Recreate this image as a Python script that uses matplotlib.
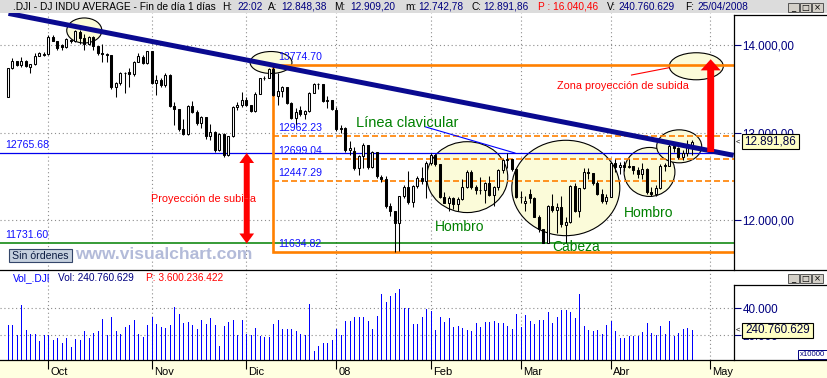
import matplotlib
matplotlib.use("Agg")
import matplotlib.pyplot as plt
import numpy as np
from matplotlib import transforms
from matplotlib.patches import Ellipse, Rectangle, FancyArrowPatch

plt.rcParams['font.family'] = ['Liberation Sans', 'DejaVu Sans']

# daily OHLC, 18/09/2007 .. 25/04/2008 (trading-day index on x)
opens = [13403, 13740, 13812, 13768, 13822, 13745, 13778, 13879, 13890, 13896,
         14090, 14045, 14005, 13975, 14060, 14044, 14150, 14079, 14015, 14093,
         13985, 13913, 13892, 13888, 13522, 13567, 13677, 13690, 13672, 13807,
         13867, 13792, 13930, 13567, 13595, 13543, 13660, 13300, 13265, 13043,
         12987, 13307, 13231, 13110, 13177, 12958, 13010, 12799, 12981, 12743,
         12959, 13289, 13311, 13372, 13315, 13249, 13445, 13620, 13625, 13727,
         13420, 13474, 13518, 13340, 13168, 13260, 13207, 13246, 13451, 13550,
         13552, 13360, 13366, 13262, 13044, 13055, 12800, 12790, 12589, 12735,
         12853, 12606, 12778, 12490, 12467, 12160, 12099, 11971, 12271, 12378,
         12207, 12384, 12480, 12443, 12650, 12743, 12635, 12265, 12200, 12248,
         12183, 12240, 12373, 12552, 12376, 12348, 12338, 12427, 12284, 12381,
         12570, 12684, 12694, 12582, 12266, 12200, 12300, 12254, 12040, 11894,
         11740, 12157, 12110, 12146, 11946, 11972, 12393, 12100, 12361, 12548,
         12533, 12422, 12302, 12216, 12263, 12654, 12608, 12627, 12610, 12613,
         12577, 12527, 12582, 12325, 12302, 12362, 12619, 12620, 12849, 12826,
         12720, 12763, 12848.38]
highs = [13740, 13856, 13820, 13868, 13830, 13782, 13912, 13925, 13915, 14115,
         14114, 14050, 14015, 14080, 14065, 14166, 14170, 14120, 14100, 14100,
         13990, 14012, 13905, 13890, 13581, 13695, 13688, 13733, 13820, 13905,
         13880, 13935, 13935, 13657, 13619, 13676, 13665, 13352, 13270, 13150,
         13310, 13360, 13260, 13190, 13180, 13100, 13020, 12990, 13000, 12965,
         13300, 13352, 13467, 13400, 13320, 13460, 13625, 13640, 13735, 13774.70,
         13676, 13530, 13520, 13345, 13276, 13300, 13260, 13460, 13560, 13570,
         13555, 13420, 13370, 13290, 13090, 13060, 12900, 12840, 12740, 12875,
         12860, 12790, 12780, 12520, 12500, 12200, 12100, 12280, 12400, 12560,
         12400, 12500, 12610, 12670, 12767, 12760, 12640, 12320, 12270, 12260,
         12260, 12470, 12570, 12570, 12400, 12490, 12440, 12500, 12390, 12580,
         12700, 12762, 12700, 12590, 12330, 12270, 12350, 12260, 12060, 11900,
         12170, 12300, 12200, 12270, 12030, 12400, 12420, 12370, 12600, 12600,
         12540, 12450, 12350, 12300, 12660, 12700, 12660, 12670, 12700, 12620,
         12610, 12650, 12590, 12380, 12400, 12640, 12650, 12870, 12860, 12830,
         12800, 12914, 12909.20]
lows = [13400, 13722, 13760, 13745, 13750, 13684, 13770, 13870, 13875, 13880,
        14040, 13940, 13945, 13960, 14020, 14030, 14015, 13943, 14005, 13943,
        13880, 13800, 13810, 13500, 13402, 13543, 13455, 13524, 13650, 13800,
        13780, 13785, 13555, 13429, 13525, 13524, 13290, 13086, 13020, 12970,
        12970, 13220, 13090, 13050, 12930, 12910, 12780, 12790, 12724, 12735,
        12950, 13260, 13290, 13300, 13230, 13240, 13440, 13600, 13620, 13420,
        13314, 13400, 13330, 13160, 13086, 13190, 13160, 13240, 13450, 13500,
        13350, 13280, 13255, 13020, 13000, 12780, 12740, 12570, 12510, 12600,
        12580, 12590, 12480, 12430, 12140, 12050, 11634.82, 11644, 12250, 12180,
        12150, 12370, 12410, 12250, 12630, 12620, 12250, 12190, 12100, 12130,
        12100, 12230, 12370, 12360, 12300, 12300, 12200, 12270, 12163, 12340,
        12540, 12600, 12560, 12250, 12200, 12100, 12190, 12030, 11860, 11735,
        11735, 12090, 11850, 11920, 11731.60, 11970, 12090, 12040, 12360, 12470,
        12400, 12290, 12200, 12180, 12260, 12550, 12530, 12560, 12590, 12530,
        12480, 12470, 12300, 12270, 12270, 12360, 12560, 12615, 12780, 12700,
        12690, 12734, 12742.78]
closes = [13739, 13815, 13767, 13821, 13759, 13778, 13878, 13913, 13896, 14088,
          14047, 13968, 13975, 14066, 14044, 14165, 14079, 14015, 14093, 13985,
          13913, 13892, 13889, 13522, 13567, 13677, 13676, 13671, 13807, 13870,
          13792, 13930, 13567, 13595, 13543, 13661, 13300, 13267, 13043, 12987,
          13307, 13231, 13110, 13177, 12958, 13010, 12799, 12981, 12743, 12959,
          13289, 13311, 13372, 13315, 13249, 13445, 13620, 13625, 13727, 13433,
          13474, 13518, 13340, 13168, 13233, 13207, 13246, 13451, 13550, 13552,
          13360, 13366, 13265, 13044, 13057, 12800, 12827, 12589, 12735, 12853,
          12606, 12778, 12501, 12467, 12160, 12099, 11971, 12271, 12378, 12207,
          12384, 12480, 12443, 12650, 12743, 12635, 12265, 12200, 12248, 12183,
          12240, 12373, 12552, 12376, 12348, 12338, 12427, 12284, 12381, 12570,
          12684, 12694, 12582, 12266, 12258, 12213, 12254, 12040, 11894, 11740,
          12157, 12110, 12146, 11951, 11972, 12393, 12100, 12361, 12548, 12533,
          12422, 12302, 12216, 12263, 12654, 12608, 12627, 12610, 12613, 12577,
          12527, 12582, 12325, 12302, 12362, 12619, 12620, 12849, 12826, 12720,
          12763, 12849, 12891.86]
# volume in units of 10000 shares
volumes = [27650, 27650, 20250, 42470, 23950, 20740, 20740, 15800, 20250, 20250,
           16540, 18270, 14070, 18030, 11600, 17040, 16540, 23210, 18030, 21980,
           23210, 32100, 20250, 33580, 23210, 20740, 26170, 27650, 31360, 20740,
           18770, 27650, 33580, 28400, 26170, 25430, 27650, 40990, 35800, 29140,
           29880, 27650, 24690, 31360, 28400, 32840, 27650, 12350, 26910, 29880,
           31360, 20250, 31360, 20990, 20250, 25430, 19510, 18520, 18770, 28400,
           31360, 24690, 24690, 24690, 23210, 20740, 20250, 43210, 8400, 12100,
           14320, 14320, 16540, 24440, 20250, 30620, 30620, 33330, 33580, 33330,
           30620, 24690, 34320, 50620, 44940, 49380, 51360, 54320, 40250, 40250,
           28400, 28400, 33580, 39510, 38020, 23950, 33580, 29880, 32840, 26170,
           26910, 25430, 23950, 23210, 29140, 26170, 29880, 29880, 30620, 29140,
           29140, 26910, 24690, 35800, 26170, 35060, 30620, 28400, 31360, 31360,
           37280, 29140, 33580, 38770, 38770, 37280, 32840, 50620, 26910, 23950,
           23210, 23950, 20990, 27650, 30370, 23210, 18030, 18030, 19510, 19510,
           19510, 22470, 29140, 21730, 20250, 26910, 20990, 30620, 19510, 21730,
           24690, 25430, 24076]

months = ['Oct', 'Nov', 'Dic', '08', 'Feb', 'Mar', 'Abr', 'May']
month_pos = [9, 32, 53, 73, 94, 114, 134, 156]
price_ticks = [12000, 13000, 14000]
vol_ticks = [20000, 40000]

# drawn levels
box_top, box_bottom, box_start = 13774.70, 11634.82, 59
dashed_levels = [12962.23, 12699.04, 12447.29]
neck_level, low_level = 12765.68, 11731.60
trend = ((0.16, 14361), (161.3, 12739))
last_close, last_vol = 12891.86, 240760629

W, H = 828, 378
NAVY = '#000080'
BLUE = '#1010ff'


def eur(v, dec):
    s = f"{v:,.{dec}f}"
    return s.replace(',', '#').replace('.', ',').replace('#', '.')


fig = plt.figure(figsize=(W / 100, H / 100), dpi=100)
fig.patch.set_facecolor('white')

# background panels (pixel coordinates)
back = fig.add_axes([0, 0, 1, 1], zorder=-1)
back.set_xlim(0, W)
back.set_ylim(H, 0)
back.axis('off')
back.add_patch(Rectangle((0, 0), W, 13, facecolor='#dcdcdc', edgecolor='none'))
back.add_patch(Rectangle((0, 360), W, 18, facecolor='#ffffe1', edgecolor='none'))

x0, x1 = -1.73, 161.38
ax = fig.add_axes([0, 1 - 270 / H, 734 / W, 257 / H])
axv = fig.add_axes([0, 18 / H, 734 / W, 90 / H])

# ---- price panel
idx = np.arange(len(closes))
O, Hh, L, C = map(np.array, (opens, highs, lows, closes))
up = C >= O
ax.vlines(idx, L, Hh, color='black', lw=0.75, zorder=3)
ax.bar(idx, np.maximum(np.abs(C - O), 6), bottom=np.minimum(O, C), width=0.45,
       color=np.where(up, 'white', 'black'), edgecolor='black', lw=0.75, zorder=4)

for (cx, cy, w, h) in [(17.0, 14166, 7.8, 286), (58.5, 13800, 9.3, 251),
                       (102.1, 12490, 18, 810), (124.0, 12366, 24, 1090),
                       (142.6, 12549, 11.3, 560), (149.2, 12842, 10, 377),
                       (153.0, 13757, 12, 309)]:
    ax.add_patch(Ellipse((cx, cy), w, h, facecolor='#fbfbd9', edgecolor='black',
                         lw=0.8, zorder=1))

dash = (0, (3.6, 1.8))
ax.axhline(neck_level, color='#0000ee', lw=0.9, zorder=2)
ax.axhline(low_level, color='#008000', lw=1.1, zorder=2)
for lv in dashed_levels:
    ax.plot([box_start, x1], [lv, lv], color='#ff8000', lw=1.2, ls=dash, zorder=2)
ax.plot([x1, box_start, box_start, x1], [box_top, box_top, box_bottom, box_bottom],
        color='#ff8000', lw=1.9, zorder=2, solid_joinstyle='miter')

for lv in [box_top] + dashed_levels + [box_bottom]:
    ax.annotate(f"{lv:.2f}", xy=(box_start, lv), xytext=(3.5, 5.8),
                textcoords='offset points', color=BLUE, fontsize=7.6,
                va='center', ha='left', zorder=7)
for lv in [neck_level, low_level]:
    ax.annotate(f"{lv:.2f}", xy=(-0.62, lv), xytext=(0, 5.8),
                textcoords='offset points', color=BLUE, fontsize=7.6,
                va='center', ha='left', zorder=7)

ax.plot([trend[0][0], trend[1][0]], [trend[0][1], trend[1][1]], color='#0a0a90',
        lw=3.6, solid_capstyle='butt', zorder=6)
ax.plot([92.7, 112.7], [13066, neck_level], color='#0000ff', lw=0.8, zorder=5)
ax.plot([138.6, 147.0], [13657, 13741], color='red', lw=0.8, zorder=5)

ax.text(88.8, 13109, 'Línea clavicular', color='#008000', fontsize=10.5,
        ha='center', va='center', zorder=7)
ax.text(100.3, 11920, 'Hombro', color='#008000', fontsize=10, ha='center',
        va='center', zorder=7)
ax.text(142.4, 12080, 'Hombro', color='#008000', fontsize=10, ha='center',
        va='center', zorder=7)
ax.text(126.3, 11688, 'Cabeza', color='#008000', fontsize=10, ha='center',
        va='center', zorder=7)
ax.text(31.8, 12237, 'Proyección de subida', color='red', fontsize=7.8,
        ha='left', va='center', zorder=7)
ax.text(136.6, 13531, 'Zona proyección de subida', color='red', fontsize=7.8,
        ha='center', va='center', zorder=7)

mid = (neck_level + low_level) / 2
for end in (neck_level, low_level):
    ax.add_patch(FancyArrowPatch((53.1, mid), (53.1, end), mutation_scale=10,
                                 arrowstyle='simple,head_length=0.72,head_width=1.06,tail_width=0.43',
                                 color='red', lw=0, shrinkA=0, shrinkB=0, zorder=8))
ax.add_patch(FancyArrowPatch((156.2, 12777), (156.2, 13837), mutation_scale=10,
                             arrowstyle='simple,head_length=0.8,head_width=1.44,tail_width=0.5',
                             color='red', lw=0, shrinkA=0, shrinkB=0, zorder=8))

grid_style = dict(color='#8c8c8c', linestyle=(0, (1, 2.5)), lw=0.8)
for a, lo, hi, ticks, dec in [(ax, 11428.6, 14365.7, price_ticks, 2),
                              (axv, 1728, 68370, vol_ticks, 0)]:
    a.set_xlim(x0, x1)
    a.set_ylim(lo, hi)
    a.set_facecolor('none')
    a.yaxis.tick_right()
    a.set_yticks(ticks)
    a.set_yticklabels([eur(t, dec) for t in ticks])
    a.tick_params(axis='y', direction='out', length=5, width=0.8, colors=NAVY,
                  labelsize=8.4, pad=1.2)
    a.set_xticks(month_pos)
    a.grid(True, **grid_style)
    a.set_axisbelow(True)
    for s in a.spines.values():
        s.set_visible(False)
ax.tick_params(axis='x', length=0, labelbottom=False)

# ---- volume panel
axv.vlines(idx, 0, volumes, color='#0000ff', lw=0.72, antialiased=False, zorder=3)
axv.tick_params(axis='x', direction='out', length=6.5, width=0.8, colors='black',
                labelbottom=False)
mtrans = transforms.offset_copy(axv.get_xaxis_transform(), fig=fig, x=2, y=0,
                                units='dots')
for m, p in zip(months, month_pos):
    axv.text(p, -0.135, m, transform=mtrans, fontsize=8, ha='left', va='center',
             clip_on=False)

# ---- overlay (pixel coordinates)
ov = fig.add_axes([0, 0, 1, 1], zorder=10)
ov.set_xlim(0, W)
ov.set_ylim(H, 0)
ov.axis('off')
ov.patch.set_alpha(0)

line_kw = dict(color='black', lw=0.9)
ov.plot([734, 734], [15, 270], **line_kw)
ov.plot([734, W], [15, 15], **line_kw)
ov.plot([0, W], [270, 270], **line_kw)
ov.plot([734, 734], [285, 360], **line_kw)
ov.plot([734, W], [285, 285], **line_kw)
ov.plot([0, W], [360, 360], **line_kw)

title_parts = [('.DJI - DJ INDU AVERAGE - Fin de día 1 días', 13, 'black'),
               ('H:', 221.7, 'black'), ('22:02', 237, NAVY),
               ('A:', 268, 'black'), (eur(12848.38, 2), 281, NAVY),
               ('M:', 334, 'black'), (eur(12909.20, 2), 350, NAVY),
               ('m:', 405, 'black'), (eur(12742.78, 2), 418, NAVY),
               ('C:', 472, 'black'), (eur(last_close, 2), 483, NAVY),
               ('P : ' + eur(16040.46, 2), 538, 'red'),
               ('V:', 607, 'black'), (eur(last_vol, 0), 618, NAVY),
               ('F:', 685, 'black'), ('25/04/2008', 697, NAVY)]
for txt, px, col in title_parts:
    ov.text(px, 6.8, txt, color=col, fontsize=7.3, ha='left', va='center')

for (txt, px, col) in [('Vol_.DJI', 13, '#0000ff'),
                       ('Vol: ' + eur(last_vol, 0), 58, NAVY),
                       ('P: 3.600.236.422', 146, 'red')]:
    ov.text(px, 278, txt, color=col, fontsize=7.3, ha='left', va='center')

for by in (3.3, 274.3):
    for bx, glyph in [(788, '_'), (800, '□'), (812, '×')]:
        ov.add_patch(Rectangle((bx, by), 11, 9, facecolor='#d4d0c8',
                               edgecolor='#404040', lw=0.6))
        ov.text(bx + 5.5, by + 4.3, glyph, fontsize=6, ha='center', va='center',
                color='black', family='DejaVu Sans')

# current value labels
for (yc, txt, w) in [(141.7, eur(last_close, 2), 57.6), (330.2, eur(last_vol, 0), 71.6)]:
    ov.add_patch(Rectangle((741.7, yc - 7.4), w, 14.8, facecolor='#ffffc4',
                           edgecolor='black', lw=0.8))
    ov.text(741.7 + w / 2, yc, txt, fontsize=8.4, color='#000040', ha='center',
            va='center')
    ov.text(737.5, yc, '<', fontsize=5.5, color='black', ha='center', va='center')

ov.add_patch(Rectangle((798, 349.7), 29, 9.3, facecolor='white', edgecolor=NAVY, lw=0.7))
ov.text(812.5, 354.5, 'x10000', fontsize=5.6, color=NAVY, ha='center', va='center')

ov.add_patch(Rectangle((9.3, 249.3), 62.4, 12.6, facecolor='#c5d0de',
                       edgecolor='#34466a', lw=0.8))
ov.text(40.5, 255.8, 'Sin órdenes', fontsize=7.6, color='#0a1a40', ha='center',
        va='center')
ov.text(75, 254.5, 'www.visualchart.com', fontsize=12.5, fontweight='bold',
        color='#b3bbd9', ha='left', va='center')

fig.savefig('out.png', dpi=100)
